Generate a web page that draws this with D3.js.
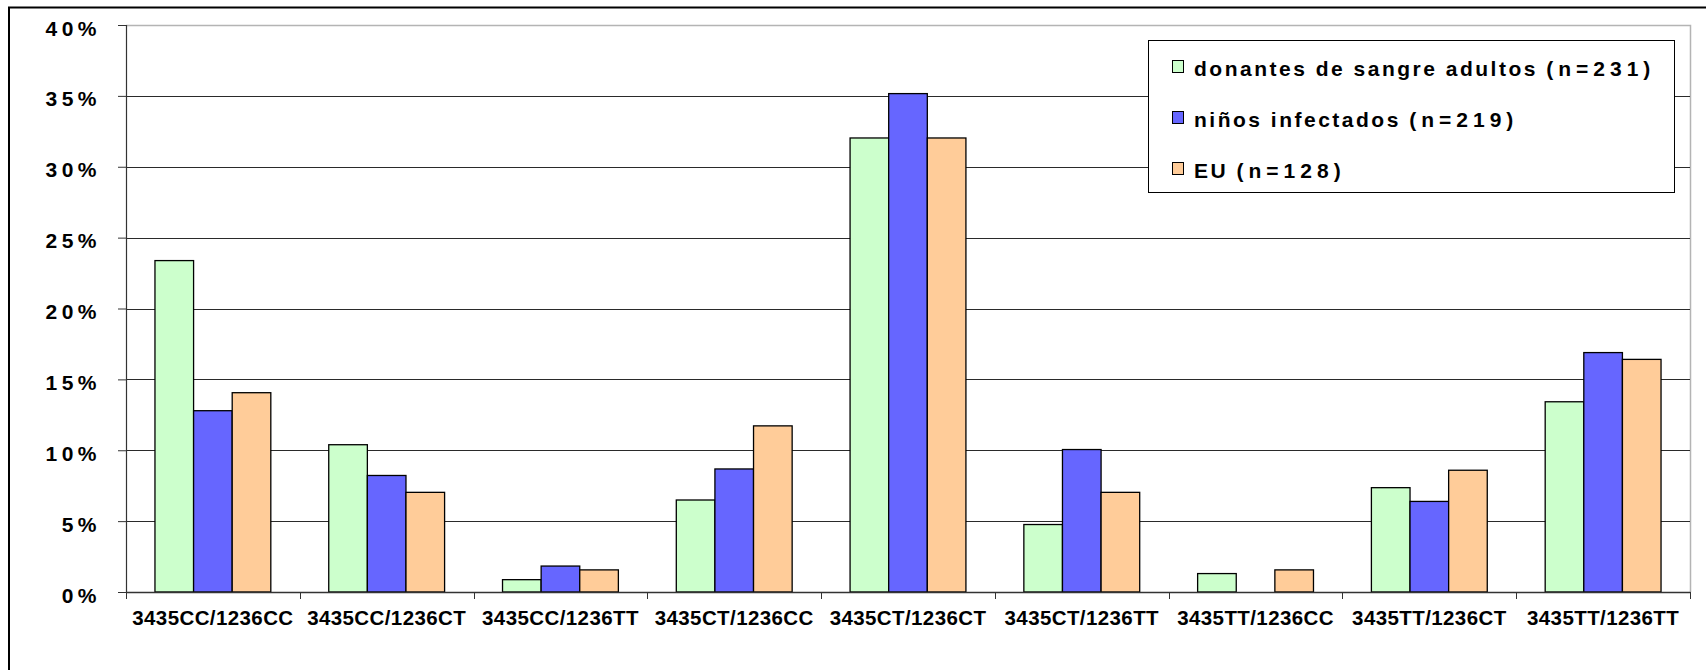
<!DOCTYPE html>
<html>
<head>
<meta charset="utf-8">
<script src="https://cdnjs.cloudflare.com/ajax/libs/d3/7.8.5/d3.min.js"></script>
<style>
  html, body { margin: 0; padding: 0; background: #fff; }
  svg { display: block; }
  text { font-family: "Liberation Sans", Arial, sans-serif; font-weight: bold; fill: #000; }
</style>
</head>
<body>
<script>
// Genotype combinations (MDR1 3435 / 1236)
const categories = [
  "3435CC/1236CC", "3435CC/1236CT", "3435CC/1236TT",
  "3435CT/1236CC", "3435CT/1236CT", "3435CT/1236TT",
  "3435TT/1236CC", "3435TT/1236CT", "3435TT/1236TT"
];

// Groups: label text and sample size
const seriesNames = ["donantes de sangre adultos", "niños infectados", "EU"];
const seriesN = ["(n=231)", "(n=219)", "(n=128)"];
const seriesColors = ["#CCFFCC", "#6666FF", "#FFCC99"];

// Percentage of each group per genotype
const donantes = [23.38, 10.39, 0.87, 6.49, 32.03, 4.76, 1.30, 7.36, 13.42];
const ninos    = [12.79, 8.22, 1.83, 8.68, 35.16, 10.05, 0.00, 6.39, 16.89];
const eu       = [14.06, 7.03, 1.56, 11.72, 32.03, 7.03, 1.56, 8.59, 16.41];

// Y axis tick values (fractions)
const yTicks = [0, 0.05, 0.10, 0.15, 0.20, 0.25, 0.30, 0.35, 0.40];

const seriesValues = [donantes, ninos, eu];

const W = 1706, H = 670;
const plot = { left: 126, right: 1690, top: 25, bottom: 592 };

const svg = d3.select("body").append("svg")
  .attr("width", W).attr("height", H);

// Outer chart frame (left and top edges visible)
svg.append("path")
  .attr("d", `M9,${H + 5} V7.5 H${W + 5}`)
  .attr("fill", "none").attr("stroke", "#000").attr("stroke-width", 2);

const x0 = d3.scaleBand().domain(categories).range([plot.left, plot.right]).padding(0);
const bw = x0.bandwidth();
const x1 = d3.scaleBand().domain(d3.range(seriesNames.length))
  .range([bw / 6, bw * 5 / 6]).padding(0);
const y = d3.scaleLinear().domain([0, 0.4]).range([plot.bottom, plot.top]);

// Plot area border (top and right)
svg.append("path")
  .attr("d", `M${plot.left},${plot.top + 0.5} H${plot.right + 0.5} V${plot.bottom}`)
  .attr("fill", "none").attr("stroke", "#b4b4b4").attr("stroke-width", 1.5);

// Horizontal gridlines
svg.append("g").selectAll("line")
  .data(yTicks.filter(t => t > 0 && t < 0.4))
  .join("line")
  .attr("x1", plot.left).attr("x2", plot.right)
  .attr("y1", d => Math.round(y(d)) + 0.5).attr("y2", d => Math.round(y(d)) + 0.5)
  .attr("stroke", "#2a2a2a").attr("stroke-width", 1);

// Bars
const groups = svg.append("g").selectAll("g")
  .data(categories)
  .join("g")
  .attr("transform", d => `translate(${x0(d)},0)`);

groups.selectAll("rect")
  .data((d, i) => seriesValues.map((vals, s) => ({ s, v: vals[i] / 100 })))
  .join("rect")
  .attr("x", d => x1(d.s))
  .attr("width", x1.bandwidth())
  .attr("y", d => y(d.v))
  .attr("height", d => y(0) - y(d.v))
  .attr("fill", d => seriesColors[d.s])
  .attr("stroke", "#000")
  .attr("stroke-width", d => d.v > 0 ? 1.3 : 0);

// Y axis
const yAxis = svg.append("g")
  .attr("transform", `translate(${plot.left},0)`)
  .call(d3.axisLeft(y).tickValues(yTicks).tickSize(8).tickPadding(0)
    .tickFormat(d3.format(".0%")));
yAxis.select(".domain").attr("stroke", "#333").attr("stroke-width", 1.2);
yAxis.selectAll(".tick line").attr("stroke", "#333");
yAxis.selectAll(".tick text")
  .attr("x", -25).attr("dy", "10px")
  .style("font-size", "21px").style("letter-spacing", "4.5px")
  .style("font-family", "'Liberation Sans', Arial, sans-serif")
  .style("font-weight", "bold");

// X axis: baseline, labels centred on each category
const xAxis = svg.append("g")
  .attr("transform", `translate(0,${plot.bottom})`)
  .call(d3.axisBottom(x0).tickSize(0).tickPadding(0));
xAxis.select(".domain").attr("stroke", "#333").attr("stroke-width", 1.5);
xAxis.selectAll(".tick text")
  .attr("y", 33).attr("dy", 0)
  .style("font-size", "20.5px").style("letter-spacing", "0.4px")
  .style("font-family", "'Liberation Sans', Arial, sans-serif")
  .style("font-weight", "bold");

// Tick marks between categories
const boundaries = categories.map(c => x0(c)).concat([x0(categories[categories.length - 1]) + bw]);
svg.append("g").selectAll("line")
  .data(boundaries)
  .join("line")
  .attr("x1", d => Math.round(d) + 0.5).attr("x2", d => Math.round(d) + 0.5)
  .attr("y1", plot.bottom).attr("y2", plot.bottom + 7)
  .attr("stroke", "#333").attr("stroke-width", 1);

// Legend
const legend = svg.append("g");
legend.append("rect")
  .attr("x", 1148.5).attr("y", 40.5).attr("width", 526).attr("height", 152)
  .attr("fill", "#fff").attr("stroke", "#000").attr("stroke-width", 1);

const rows = legend.selectAll("g.row")
  .data(seriesNames)
  .join("g").attr("class", "row")
  .attr("transform", (d, i) => `translate(0,${76 + i * 51})`);

rows.append("rect")
  .attr("x", 1172.5).attr("y", -15.5).attr("width", 11).attr("height", 12)
  .attr("fill", (d, i) => seriesColors[i]).attr("stroke", "#000").attr("stroke-width", 1);

const lt = rows.append("text")
  .attr("x", 1194).attr("y", 0)
  .style("font-size", "21px");
lt.append("tspan").style("letter-spacing", "2.5px").text(d => d + " ");
lt.append("tspan").style("letter-spacing", "5px").text((d, i) => seriesN[i]);
</script>
</body>
</html>
